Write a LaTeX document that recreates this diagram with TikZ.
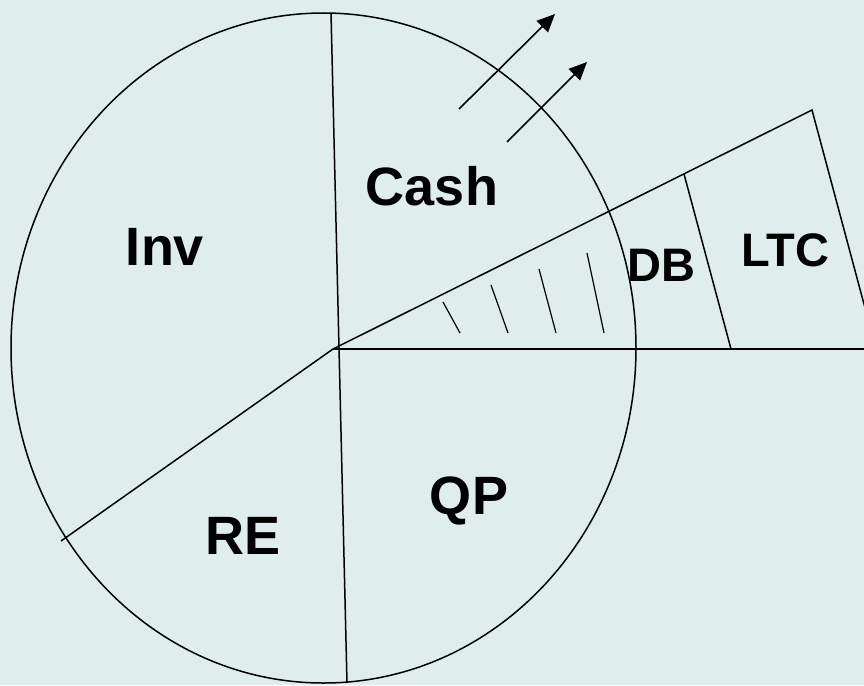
\documentclass[tikz,border=0pt]{standalone}
\usepackage{fontspec}
\setsansfont{Liberation Sans}
\usetikzlibrary{arrows.meta}
\definecolor{cPanel}{RGB}{223, 237, 237}
\definecolor{tDark}{RGB}{0, 0, 0}

\begin{document}
\begin{tikzpicture}[
    x=1pt, y=-1pt,
    edge/.style={line width=1.5pt, color=tDark},
    hatch/.style={line width=1.2pt, color=tDark},
    flow/.style={-{Triangle[length=18pt, width=16pt]}, line width=1.6pt, color=tDark},
    bigLabel/.style={font=\sffamily\bfseries\fontsize{54}{60}\selectfont, inner sep=0pt},
    smallLabel/.style={font=\sffamily\bfseries\fontsize{47}{52}\selectfont, inner sep=0pt}
]

\fill[cPanel] (0,0) rectangle (864,685);
\useasboundingbox (0,0) rectangle (864,685);
\clip (0,0) rectangle (864,685);

% Points of the pie
\coordinate (hub) at (333, 349);
\coordinate (cashTop) at (331, 13);
\coordinate (qpFoot) at (347, 683);
\coordinate (reEnd) at (61, 541);
\coordinate (rayTip) at (812, 110);
\coordinate (axisEnd) at (864, 349);
\coordinate (dbTop) at (684, 174);
\coordinate (dbFoot) at (731, 349);
\coordinate (ltcFoot) at (876, 349);

% Pie and slices
\draw[edge] (323.5, 348) ellipse [x radius=312.5pt, y radius=335pt];
\draw[edge] (cashTop) -- (qpFoot);
\draw[edge] (hub) -- (reEnd);
\draw[edge] (hub) -- (axisEnd);
\draw[edge] (hub) -- (rayTip) -- (ltcFoot);
\draw[edge] (dbTop) -- (dbFoot);

% Hatching
\draw[hatch] (443, 302) -- (460, 333);
\draw[hatch] (491, 285) -- (508, 333);
\draw[hatch] (539, 269) -- (556, 333);
\draw[hatch] (587, 253) -- (604, 333);

% Outflow arrows
\coordinate (outA) at (459, 109);
\coordinate (outAtip) at (555, 14);
\coordinate (outB) at (507, 142);
\coordinate (outBtip) at (587, 62);
\draw[flow] (outA) -- (outAtip);
\draw[flow] (outB) -- (outBtip);

% Labels
\node[bigLabel] (inv) at (165, 247) {Inv};
\node[bigLabel] (cash) at (432, 186) {Cash};
\node[bigLabel] (qp) at (469, 501) {QP};
\node[bigLabel] (re) at (243, 536) {RE};
\node[smallLabel] (db) at (661, 265) {DB};
\node[smallLabel] (ltc) at (785, 250) {LTC};

\end{tikzpicture}
\end{document}
